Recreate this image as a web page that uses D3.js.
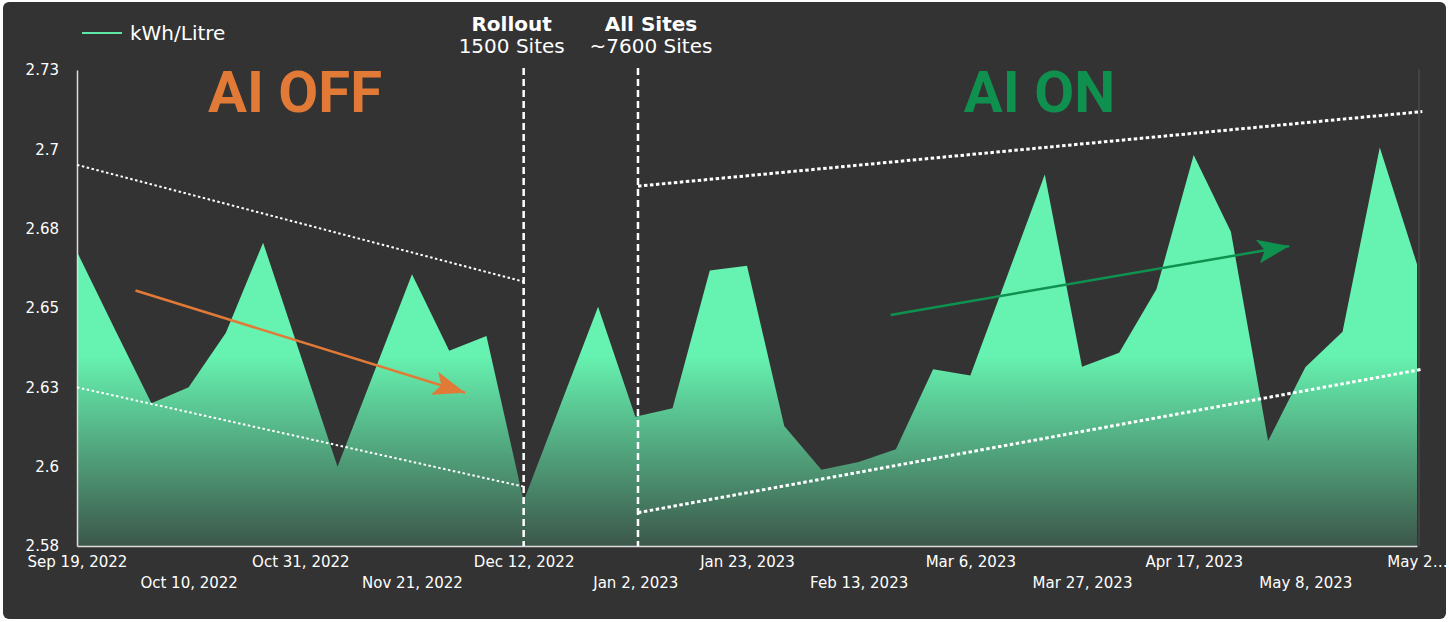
<!DOCTYPE html>
<html>
<head>
<meta charset="utf-8">
<script src="https://cdn.jsdelivr.net/npm/d3@7"></script>
<style>
  body { margin: 0; background: #ffffff; }
</style>
</head>
<body>
<div id="chart"></div>
<script>
// weekly kWh/Litre, Sep 19 2022 .. May 29 2023
var weeks = ["2022-09-19", "2022-09-26", "2022-10-03", "2022-10-10", "2022-10-17", "2022-10-24",
  "2022-10-31", "2022-11-07", "2022-11-14", "2022-11-21", "2022-11-28", "2022-12-05",
  "2022-12-12", "2022-12-19", "2022-12-26", "2023-01-02", "2023-01-09", "2023-01-16",
  "2023-01-23", "2023-01-30", "2023-02-06", "2023-02-13", "2023-02-20", "2023-02-27",
  "2023-03-06", "2023-03-13", "2023-03-20", "2023-03-27", "2023-04-03", "2023-04-10",
  "2023-04-17", "2023-04-24", "2023-05-01", "2023-05-08", "2023-05-15", "2023-05-22",
  "2023-05-29"];
var kwhPerLitre = [2.6727, 2.6487, 2.6250, 2.6300, 2.6472, 2.6756,
  2.6403, 2.6050, 2.6353, 2.6656, 2.6415, 2.6462,
  2.5942, 2.6248, 2.6554, 2.6207, 2.6234, 2.6668,
  2.6683, 2.6178, 2.6040, 2.6065, 2.6105, 2.6357,
  2.6337, 2.6654, 2.6971, 2.6365, 2.6409, 2.6609,
  2.7032, 2.6790, 2.6131, 2.6363, 2.6475, 2.7056,
  2.6688];

var yTicks = [2.58, 2.605, 2.63, 2.655, 2.68, 2.705, 2.73];
var yTickLabels = ["2.58", "2.6", "2.63", "2.65", "2.68", "2.7", "2.73"];
var xTicks = ["2022-09-19", "2022-10-10", "2022-10-31", "2022-11-21", "2022-12-12", "2023-01-02",
  "2023-01-23", "2023-02-13", "2023-03-06", "2023-03-27", "2023-04-17", "2023-05-08", "2023-05-29"];
var xTickLabels = ["Sep 19, 2022", "Oct 10, 2022", "Oct 31, 2022", "Nov 21, 2022", "Dec 12, 2022",
  "Jan 2, 2023", "Jan 23, 2023", "Feb 13, 2023", "Mar 6, 2023", "Mar 27, 2023", "Apr 17, 2023",
  "May 8, 2023", "May 2\u2026"];

// milestones and trend annotations, in data space
var milestones = [
  { date: "2022-12-12", title: "Rollout", sub: "1500 Sites", dx: -12 },
  { date: "2023-01-02T12:00", title: "All Sites", sub: "~7600 Sites", dx: 13 }
];
var trendLines = [
  { from: ["2022-09-19", 2.7001], to: ["2022-12-12", 2.6633], dash: "2.5,2.5", w: 2 },
  { from: ["2022-09-19", 2.6300], to: ["2022-12-12", 2.5987], dash: "2.5,2.5", w: 2 },
  { from: ["2023-01-02T12:00", 2.6934], to: ["2023-05-30", 2.7169], dash: "3.5,2.5", w: 3 },
  { from: ["2023-01-02T12:00", 2.5905], to: ["2023-05-30", 2.6357], dash: "3.5,2.5", w: 3 }
];
var arrows = [
  { from: ["2022-09-30", 2.6605], to: ["2022-12-01", 2.6283], color: "#e27a37" },
  { from: ["2023-02-19", 2.6528], to: ["2023-05-05", 2.6745], color: "#0f9150" }
];
var phaseLabels = [
  { text: "AI OFF", date: "2022-10-30", color: "#e27a37" },
  { text: "AI ON", date: "2023-03-19", color: "#10904f" }
];

var svgWidth = 1449;
var svgHeight = 622;
var margin = { top: 70, right: 32, bottom: 76, left: 77 };
var width = svgWidth - margin.left - margin.right;
var height = svgHeight - margin.top - margin.bottom;

var parseDay = d3.timeParse("%Y-%m-%d");
var parseHour = d3.timeParse("%Y-%m-%dT%H:%M");
function parseDate(s) {
  return parseDay(s) || parseHour(s);
}

var data = weeks.map(function(w, i) {
  return { date: parseDate(w), value: kwhPerLitre[i] };
});

var svg = d3.select("#chart")
  .append("svg")
  .attr("width", svgWidth)
  .attr("height", svgHeight)
  .style("font-family", "DejaVu Sans, sans-serif");

// dark panel
svg.append("rect")
  .attr("x", 3).attr("y", 2)
  .attr("width", svgWidth - 6).attr("height", svgHeight - 5)
  .attr("rx", 6)
  .attr("fill", "#333333");

var chartGroup = svg.append("g")
  .attr("transform", `translate(${margin.left}, ${margin.top})`);

var xScale = d3.scaleTime()
  .domain([parseDate(weeks[0]), parseDate(weeks[weeks.length - 1])])
  .range([0, width]);

var yScale = d3.scaleLinear()
  .domain([2.58, 2.73])
  .range([height, 0]);

// gradient fill
var defs = svg.append("defs");
var grad = defs.append("linearGradient")
  .attr("id", "areaFill")
  .attr("gradientUnits", "userSpaceOnUse")
  .attr("x1", 0).attr("y1", 0)
  .attr("x2", 0).attr("y2", height);
grad.append("stop").attr("offset", "0").attr("stop-color", "#66f2b0");
grad.append("stop").attr("offset", "0.6").attr("stop-color", "#66f2b0");
grad.append("stop").attr("offset", "1").attr("stop-color", "#3c574a");

var area = d3.area()
  .x(d => xScale(d.date))
  .y0(height)
  .y1(d => yScale(d.value));

chartGroup.append("path")
  .datum(data)
  .attr("d", area)
  .attr("fill", "url(#areaFill)");

// right edge
chartGroup.append("line")
  .attr("x1", width + 2).attr("x2", width + 2)
  .attr("y1", -1).attr("y2", height)
  .attr("stroke", "#4a4a4a")
  .attr("stroke-width", 1.5);

// axes
var bottomAxis = d3.axisBottom(xScale)
  .tickValues(xTicks.map(parseDate))
  .tickSize(0)
  .tickFormat((d, i) => xTickLabels[i]);
var leftAxis = d3.axisLeft(yScale)
  .tickValues(yTicks)
  .tickSize(0)
  .tickFormat((d, i) => yTickLabels[i]);

var xAxisG = chartGroup.append("g")
  .attr("transform", `translate(0, ${height})`)
  .call(bottomAxis);
xAxisG.select(".domain").attr("stroke", "#dddddd").attr("stroke-width", 1.5);
xAxisG.selectAll("text")
  .attr("fill", "#ffffff")
  .attr("font-size", "15px")
  .attr("font-family", "DejaVu Sans")
  .attr("dy", null)
  .attr("y", (d, i) => i % 2 === 0 ? 21 : 42);

var yAxisG = chartGroup.append("g")
  .call(leftAxis);
yAxisG.select(".domain").attr("stroke", "#dddddd").attr("stroke-width", 1.5);
yAxisG.selectAll("text")
  .attr("fill", "#ffffff")
  .attr("font-size", "15px")
  .attr("font-family", "DejaVu Sans")
  .attr("x", -18);

// trend lines
chartGroup.selectAll(".trend")
  .data(trendLines)
  .enter()
  .append("line")
  .attr("class", "trend")
  .attr("x1", d => xScale(parseDate(d.from[0])))
  .attr("y1", d => yScale(d.from[1]))
  .attr("x2", d => xScale(parseDate(d.to[0])))
  .attr("y2", d => yScale(d.to[1]))
  .attr("stroke", "#ffffff")
  .attr("stroke-width", d => d.w)
  .attr("stroke-dasharray", d => d.dash);

// milestone lines
chartGroup.selectAll(".milestone")
  .data(milestones)
  .enter()
  .append("line")
  .attr("class", "milestone")
  .attr("x1", d => xScale(parseDate(d.date)))
  .attr("x2", d => xScale(parseDate(d.date)))
  .attr("y1", -2)
  .attr("y2", height)
  .attr("stroke", "#ffffff")
  .attr("stroke-width", 2.5)
  .attr("stroke-dasharray", "7,4");

var msText = chartGroup.selectAll(".mstext")
  .data(milestones)
  .enter()
  .append("text")
  .attr("class", "mstext")
  .attr("text-anchor", "middle")
  .attr("fill", "#ffffff")
  .attr("font-size", "20px");
msText.append("tspan")
  .attr("x", d => xScale(parseDate(d.date)) + d.dx)
  .attr("y", -39)
  .attr("font-weight", "bold")
  .text(d => d.title);
msText.append("tspan")
  .attr("x", d => xScale(parseDate(d.date)) + d.dx)
  .attr("y", -17)
  .text(d => d.sub);

// arrows
arrows.forEach(function(a, i) {
  defs.append("marker")
    .attr("id", "arrow" + i)
    .attr("viewBox", "0 0 32 24")
    .attr("refX", 32).attr("refY", 12)
    .attr("markerWidth", 32).attr("markerHeight", 24)
    .attr("markerUnits", "userSpaceOnUse")
    .attr("orient", "auto")
    .append("path")
    .attr("d", "M0,0 L32,12 L0,24 L7,12 Z")
    .attr("fill", a.color);
});

chartGroup.selectAll(".arrow")
  .data(arrows)
  .enter()
  .append("line")
  .attr("class", "arrow")
  .attr("x1", d => xScale(parseDate(d.from[0])))
  .attr("y1", d => yScale(d.from[1]))
  .attr("x2", d => xScale(parseDate(d.to[0])))
  .attr("y2", d => yScale(d.to[1]))
  .attr("stroke", d => d.color)
  .attr("stroke-width", 2.5)
  .attr("marker-end", (d, i) => `url(#arrow${i})`);

// phase labels
chartGroup.selectAll(".phase")
  .data(phaseLabels)
  .enter()
  .append("text")
  .attr("class", "phase")
  .attr("x", d => xScale(parseDate(d.date)))
  .attr("y", 42)
  .attr("text-anchor", "middle")
  .style("font-family", "Roboto, sans-serif")
  .attr("font-weight", "bold")
  .attr("font-size", "58px")
  .attr("fill", d => d.color)
  .text(d => d.text);

// legend
var legend = svg.append("g").attr("transform", "translate(82, 33)");
legend.append("line")
  .attr("x1", 0).attr("x2", 40)
  .attr("stroke", "#5ee6a5")
  .attr("stroke-width", 2);
legend.append("text")
  .attr("x", 48).attr("y", 7)
  .attr("fill", "#ffffff")
  .attr("font-size", "20px")
  .text("kWh/Litre");
</script>
</body>
</html>
